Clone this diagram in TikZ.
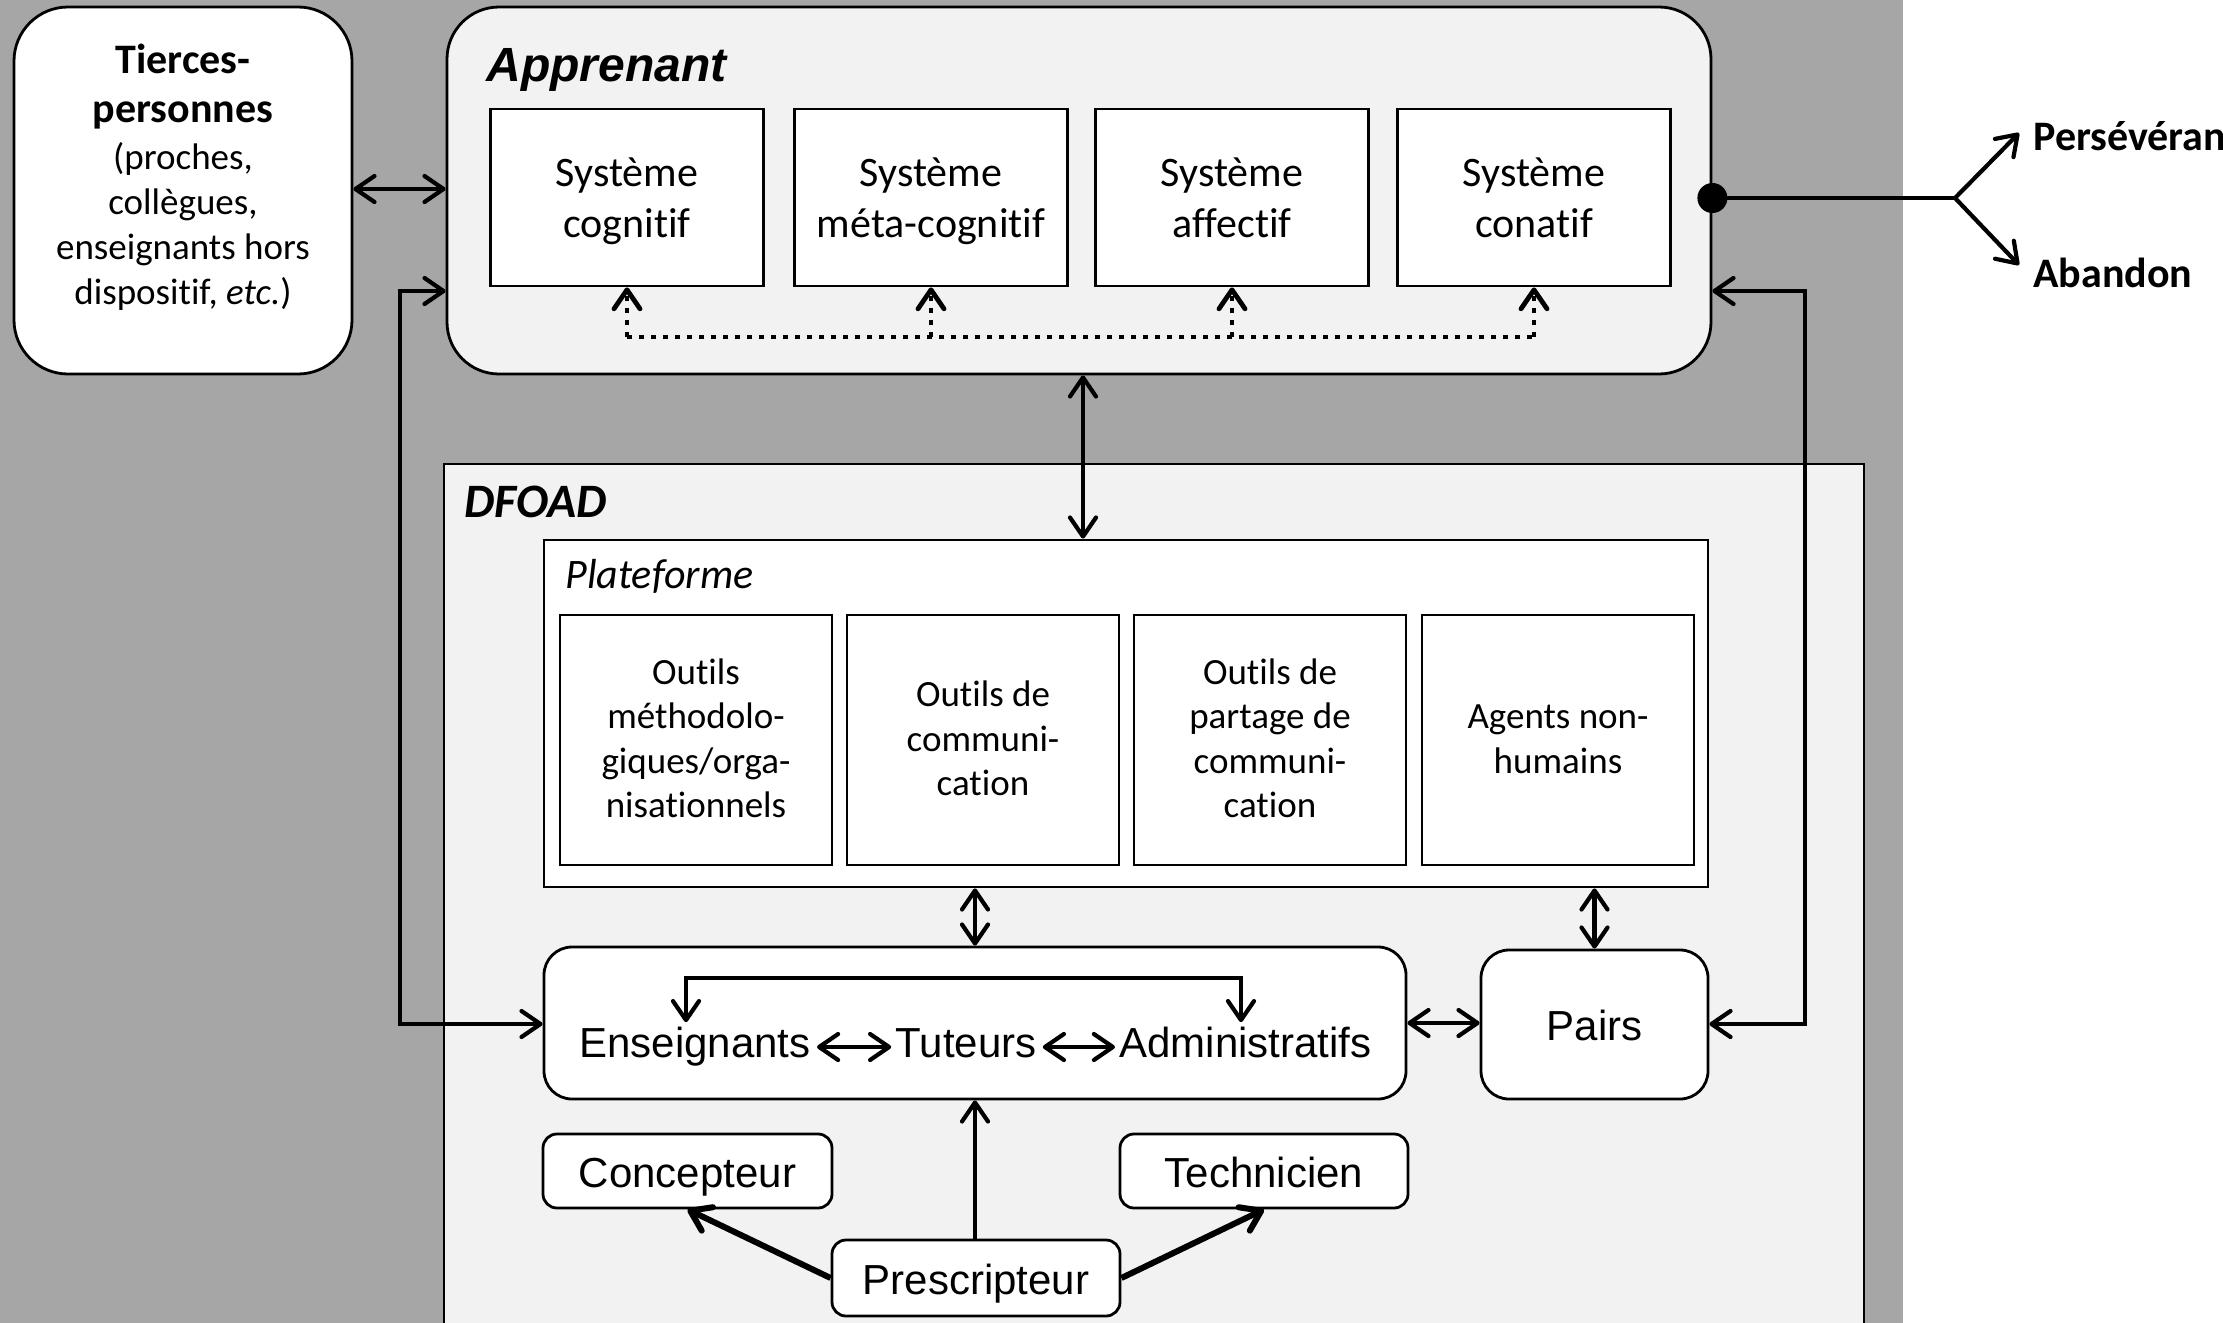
\documentclass[tikz,border=0pt]{standalone}
\usepackage{fontspec}
\setmainfont{Carlito}[Ligatures=NoCommon]
\newfontfamily\arialf{Liberation Sans}
\usetikzlibrary{arrows.meta}
\definecolor{bggray}{HTML}{A6A6A6}
\definecolor{lightfill}{HTML}{F2F2F2}
\begin{document}
\begin{tikzpicture}[x=0.5pt,y=-0.5pt,
  >={Straight Barb[length=9.5pt,width=13pt,round]},
  box/.style={draw,line width=1.4pt,inner sep=0pt},
  sysbox/.style={box,fill=white,minimum width=136.5pt,minimum height=88.5pt,align=center,font=\fontsize{21}{25.5}\selectfont,
    text height=44.7pt,text depth=5pt},
  toolbox/.style={box,fill=white,minimum width=136pt,minimum height=125pt,align=center,font=\fontsize{18.5}{22.2}\selectfont,
    text depth=5pt},
  rbox/.style={box,fill=white,rounded corners=7pt,font=\arialf\fontsize{21}{25}\selectfont,text height=20pt,text depth=4pt},
  conn/.style={line width=2.1pt},
  thickconn/.style={line width=3pt},
  dotconn/.style={line width=2.4pt,dash pattern=on 2.4pt off 3.6pt},
  word/.style={inner sep=0pt,font=\arialf\fontsize{21}{25}\selectfont},
  lbl/.style={anchor=base west,inner sep=0pt},
]
\useasboundingbox (0,0) rectangle (2223,1323);
\fill[bggray] (0,0) rectangle (1903,1323);

% coordinates
\coordinate (y189) at (0,189);
\coordinate (y198) at (0,198);
\coordinate (L1) at (400,291);
\coordinate (L2) at (400,1024);
\coordinate (R1) at (1805,291);
\coordinate (R2) at (1805,1024);
\coordinate (AX) at (1083,0);
\coordinate (D) at (0,337);
\coordinate (BL) at (686,978);
\coordinate (BR) at (1241,978);
\coordinate (fork) at (1955,198);
\coordinate (pers) at (2019,133);
\coordinate (aban) at (2019,265);

% Tierces-personnes
\node[box,fill=white,rounded corners=27pt,minimum width=169pt,minimum height=183.5pt] (tierces) at (183,190.5) {};
\node[align=center,inner sep=0pt,font=\fontsize{18.5}{22.5}\selectfont] (tiercest) at (183,177)
  {{\bfseries\fontsize{21}{24.5}\selectfont Tierces-}\\[2pt]
   {\bfseries\fontsize{21}{24.5}\selectfont personnes}\\[1pt]
   (proches,\\ collègues,\\ enseignants hors\\ dispositif, \textit{etc.})};

% Apprenant
\node[box,fill=lightfill,rounded corners=26pt,minimum width=632pt,minimum height=183.5pt] (appr) at (1079,190.5) {};
\node[lbl,font=\arialf\bfseries\itshape\fontsize{24}{28}\selectfont] (apprl) at (486,81) {Apprenant};
\node[sysbox] (s1) at (627,197.5) {Système\\cognitif};
\node[sysbox] (s2) at (931,197.5) {Système\\méta-cognitif};
\node[sysbox] (s3) at (1232,197.5) {Système\\affectif};
\node[sysbox] (s4) at (1534,197.5) {Système\\conatif};

\draw[dotconn] (s1.south |- D) -- (s4.south |- D);
\draw[dotconn,->] (s1.south |- D) -- (s1.south);
\draw[dotconn,->] (s2.south |- D) -- (s2.south);
\draw[dotconn,->] (s3.south |- D) -- (s3.south);
\draw[dotconn,->] (s4.south |- D) -- (s4.south);

\draw[conn,<->] (tierces.east |- y189) -- (appr.west |- y189);

% outcome
\node[circle,fill=black,inner sep=0pt,minimum size=15pt] (dot) at (appr.east |- y198) {};
\draw[conn] (dot.center) -- (fork);
\draw[conn,->] (fork) -- (pers);
\draw[conn,->] (fork) -- (aban);
\node[lbl,font=\bfseries\fontsize{21}{25}\selectfont] (persl) at (2033,150) {Persévéran};
\node[lbl,font=\bfseries\fontsize{21}{25}\selectfont] (abanl) at (2033,287) {Abandon};

% DFOAD
\node[box,fill=lightfill,line width=1.2pt,minimum width=710pt,minimum height=433pt] (dfoad) at (1154,897) {};
\node[lbl,font=\bfseries\itshape\fontsize{24}{28}\selectfont] (dfoadl) at (464,517) {DFOAD};

% Plateforme
\node[box,fill=white,minimum width=582pt,minimum height=173.5pt] (plat) at (1126,713.5) {};
\node[lbl,font=\itshape\fontsize{21}{25}\selectfont] (platl) at (565,588) {Plateforme};
\node[toolbox,text height=82.6pt] (t1) at (696,740) {Outils\\méthodolo-\\giques/orga-\\nisationnels};
\node[toolbox,text height=60.4pt] (t2) at (983,740) {Outils de\\communi-\\cation};
\node[toolbox,text height=82.6pt] (t3) at (1270,740) {Outils de\\partage de\\communi-\\cation};
\node[toolbox,text height=38.2pt] (t4) at (1558,740) {Agents non-\\humains};

\draw[conn,<->] (appr.south -| AX) -- (plat.north -| AX);

% Enseignants / Tuteurs / Administratifs
\node[box,fill=white,rounded corners=14pt,minimum width=431pt,minimum height=76pt] (ens) at (975,1023) {};
\node[word,anchor=base east] (ensw) at (811,1057) {Enseignants};
\node[word,anchor=base] (tutw) at (966,1057) {Tuteurs};
\node[word,anchor=base west] (admw) at (1119,1057) {Administratifs};
\draw[conn,<->] ([xshift=3pt,yshift=5pt]ensw.base east) -- ([xshift=-2pt,yshift=5pt]tutw.base west);
\draw[conn,<->] ([xshift=3pt,yshift=5pt]tutw.base east) -- ([xshift=-2pt,yshift=5pt]admw.base west);
\draw[conn,<->] ([yshift=2pt]ensw.north -| BL) -- (BL) -- (BR) -- ([yshift=2pt]admw.north -| BR);

% Pairs
\node[rbox,rounded corners=14pt,minimum width=113.5pt,minimum height=74.5pt] (pairs) at (1594.5,1024.5) {Pairs};

\draw[conn,<->] (plat.south -| ens.north) -- (ens.north);
\draw[conn,<->] (plat.south -| pairs.north) -- (pairs.north);
\draw[conn,<->] (ens.east) -- (ens.east -| pairs.west);

% long connectors
\draw[conn,<->] (appr.west |- L1) -- (L1) -- (L2) -- (ens.west |- L2);
\draw[conn,<->] (appr.east |- R1) -- (R1) -- (R2) -- (pairs.east |- R2);

% bottom
\node[rbox,minimum width=144.5pt,minimum height=37pt] (conc) at (687.5,1171) {Concepteur};
\node[rbox,minimum width=144pt,minimum height=37pt] (tech) at (1264,1171) {Technicien};
\node[rbox,minimum width=144pt,minimum height=38pt] (presc) at (976,1278) {Prescripteur};
\draw[conn,->] (presc.north -| ens.south) -- (ens.south);
\draw[thickconn,->] (presc.west) -- (conc.south);
\draw[thickconn,->] (presc.east) -- (tech.south);
\end{tikzpicture}
\end{document}
